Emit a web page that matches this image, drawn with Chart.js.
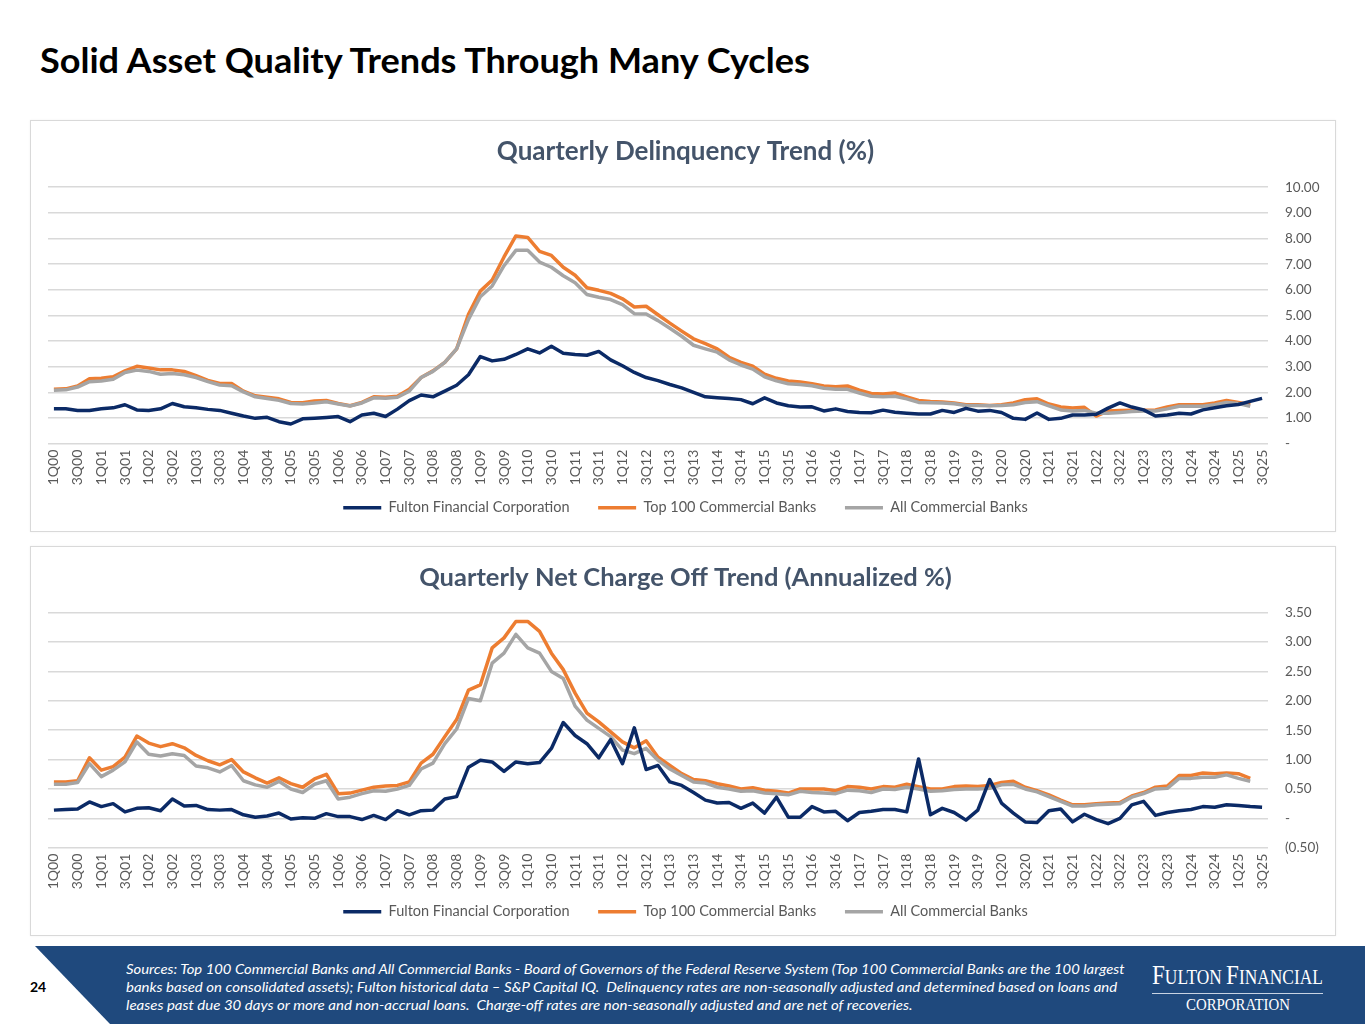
<!DOCTYPE html>
<html>
<head>
<meta charset="utf-8">
<script src="https://cdn.jsdelivr.net/npm/chart.js@4.4.1/dist/chart.umd.min.js"></script>
<style>
  body { margin: 0; width: 1365px; height: 1024px; background: #fff; position: relative; overflow: hidden; font-family: Lato, "Open Sans", sans-serif; }
  #title { position: absolute; left: 40px; top: 39px; font-weight: 700; font-size: 35px; line-height: 40px; white-space: nowrap; transform-origin: 0 0; color: #000; width: max-content; }
  .box { position: absolute; left: 30px; width: 1304px; border: 1px solid #d9d9d9; box-shadow: 0 0 2px rgba(0,0,0,0.06); background: #fff; }
  #box1 { top: 120px; height: 410px; }
  #box2 { top: 546px; height: 388px; }
  canvas { display: block; }
  #band { position: absolute; left: 0; top: 946px; width: 1365px; height: 78px; background: #1f497d;
          clip-path: polygon(35px 0, 1365px 0, 1365px 78px, 110px 78px); }
  #page { position: absolute; left: 30px; top: 978px; font-weight: 700; font-size: 14px; color: #000; }
  #notes { position: absolute; left: 126px; top: 960px; color: #fff; font-style: italic; font-size: 13px; line-height: 18px; }
  #notes div { white-space: nowrap; transform-origin: 0 0; width: max-content; }
  #logo1 { position: absolute; left: 1152px; top: 960px; color: #fff; font-family: "Liberation Serif", "DejaVu Serif", serif; font-size: 21px; white-space: nowrap; transform-origin: 0 0; width: max-content; line-height: 30px; }
  #logo1 b { font-weight: 400; font-size: 28px; }
  #rule { position: absolute; left: 1152px; top: 993px; width: 171px; height: 1px; background: #c8d3e3; }
  #logo2 { position: absolute; left: 1186px; top: 995px; color: #fff; font-family: "Liberation Serif", "DejaVu Serif", serif; font-size: 17px; line-height: 20px; white-space: nowrap; transform-origin: 0 0; width: max-content; }
</style>
</head>
<body>
<div id="title">Solid Asset Quality Trends Through Many Cycles</div>

<div class="box" id="box1"><canvas id="delinq" width="1304" height="410"></canvas></div>
<div class="box" id="box2"><canvas id="nco" width="1304" height="388"></canvas></div>

<div id="band"></div>
<div id="page">24</div>
<div id="notes">
  <div data-w="999">Sources: Top 100 Commercial Banks and All Commercial Banks - Board of Governors of the Federal Reserve System (Top 100 Commercial Banks are the 100 largest</div>
  <div data-w="991">banks based on consolidated assets); Fulton historical data – S&amp;P Capital IQ.&nbsp; Delinquency rates are non-seasonally adjusted and determined based on loans and</div>
  <div data-w="786">leases past due 30 days or more and non-accrual loans.&nbsp; Charge-off rates are non-seasonally adjusted and are net of recoveries.</div>
</div>
<div id="logo1"><b>F</b>ULTON <b>F</b>INANCIAL</div>
<div id="rule"></div>
<div id="logo2">CORPORATION</div>

<script>
// quarters 1Q00 .. 3Q25
const quarters = [];
for (let y = 0; y <= 25; y++) {
  for (let q = 1; q <= 4; q++) {
    if (y === 25 && q > 3) break;
    quarters.push(q + 'Q' + String(y).padStart(2, '0'));
  }
}

const seriesNames = ['Fulton Financial Corporation', 'Top 100 Commercial Banks', 'All Commercial Banks'];

// Quarterly delinquency (%)
const delinqFulton = [
  1.36, 1.36, 1.30, 1.30, 1.36, 1.40, 1.52, 1.32, 1.30, 1.36, 1.57, 1.44, 1.40, 1.34, 1.30, 1.19, 1.08, 0.99, 1.03, 0.86,
  0.77, 0.97, 0.99, 1.02, 1.06, 0.86, 1.12, 1.19, 1.06, 1.35, 1.68, 1.90, 1.83, 2.05, 2.28, 2.69, 3.40, 3.23, 3.29, 3.48,
  3.70, 3.54, 3.80, 3.53, 3.48, 3.45, 3.60, 3.27, 3.04, 2.78, 2.58, 2.46, 2.31, 2.18, 2.00, 1.83, 1.79, 1.76, 1.72, 1.56,
  1.79, 1.59, 1.48, 1.43, 1.44, 1.28, 1.36, 1.26, 1.22, 1.21, 1.31, 1.23, 1.19, 1.16, 1.16, 1.30, 1.22, 1.38, 1.27, 1.30,
  1.22, 0.99, 0.95, 1.20, 0.95, 0.99, 1.12, 1.12, 1.15, 1.39, 1.59, 1.43, 1.32, 1.08, 1.12, 1.19, 1.16, 1.32, 1.40, 1.48,
  1.53, 1.65, 1.77
];
const delinqTop100 = [
  2.12, 2.14, 2.25, 2.53, 2.55, 2.61, 2.84, 3.02, 2.95, 2.88, 2.88, 2.82, 2.65, 2.47, 2.35, 2.35, 2.05, 1.87, 1.81, 1.75,
  1.61, 1.60, 1.67, 1.69, 1.57, 1.48, 1.61, 1.83, 1.81, 1.85, 2.12, 2.58, 2.84, 3.17, 3.70, 5.05, 5.95, 6.38, 7.28, 8.10,
  8.04, 7.50, 7.34, 6.88, 6.57, 6.08, 5.98, 5.86, 5.65, 5.33, 5.36, 5.03, 4.70, 4.39, 4.09, 3.90, 3.70, 3.37, 3.17, 3.02,
  2.71, 2.55, 2.45, 2.41, 2.34, 2.25, 2.22, 2.25, 2.09, 1.96, 1.94, 1.98, 1.83, 1.69, 1.65, 1.63, 1.59, 1.52, 1.52, 1.49,
  1.52, 1.59, 1.72, 1.75, 1.55, 1.43, 1.39, 1.42, 1.08, 1.28, 1.30, 1.31, 1.31, 1.32, 1.43, 1.52, 1.52, 1.52, 1.59, 1.69,
  1.61, 1.52, null
];
const delinqAll = [
  2.09, 2.10, 2.21, 2.42, 2.45, 2.51, 2.78, 2.87, 2.82, 2.71, 2.74, 2.69, 2.58, 2.42, 2.29, 2.26, 2.02, 1.83, 1.76, 1.69,
  1.57, 1.55, 1.59, 1.64, 1.55, 1.47, 1.59, 1.79, 1.77, 1.81, 2.05, 2.58, 2.82, 3.17, 3.70, 4.85, 5.73, 6.15, 6.94, 7.54,
  7.54, 7.08, 6.88, 6.55, 6.28, 5.82, 5.71, 5.62, 5.42, 5.07, 5.06, 4.80, 4.50, 4.19, 3.84, 3.70, 3.57, 3.27, 3.07, 2.91,
  2.61, 2.45, 2.34, 2.31, 2.26, 2.16, 2.12, 2.12, 1.98, 1.85, 1.83, 1.85, 1.75, 1.61, 1.60, 1.59, 1.56, 1.49, 1.49, 1.48,
  1.49, 1.52, 1.61, 1.64, 1.48, 1.32, 1.28, 1.30, 1.19, 1.19, 1.22, 1.26, 1.28, 1.28, 1.36, 1.46, 1.46, 1.46, 1.52, 1.61,
  1.57, 1.46, null
];

// Quarterly net charge-offs (annualized %)
const ncoFulton = [
  0.14, 0.15, 0.16, 0.28, 0.20, 0.25, 0.11, 0.17, 0.18, 0.13, 0.33, 0.21, 0.22, 0.15, 0.14, 0.15, 0.06, 0.02, 0.04, 0.09,
  -0.01, 0.01, 0.00, 0.08, 0.03, 0.03, -0.02, 0.05, -0.02, 0.13, 0.06, 0.13, 0.14, 0.33, 0.37, 0.87, 0.99, 0.96, 0.80, 0.96,
  0.93, 0.95, 1.19, 1.63, 1.41, 1.27, 1.03, 1.34, 0.93, 1.54, 0.83, 0.90, 0.62, 0.56, 0.44, 0.31, 0.26, 0.27, 0.17, 0.26,
  0.09, 0.36, 0.02, 0.02, 0.20, 0.11, 0.12, -0.04, 0.10, 0.12, 0.15, 0.15, 0.11, 1.01, 0.06, 0.17, 0.10, -0.03, 0.14, 0.66,
  0.26, 0.09, -0.06, -0.07, 0.13, 0.16, -0.06, 0.07, -0.02, -0.09, 0.00, 0.23, 0.29, 0.05, 0.10, 0.13, 0.15, 0.20, 0.19, 0.23,
  0.22, 0.20, 0.19
];
const ncoTop100 = [
  0.62, 0.62, 0.64, 1.03, 0.82, 0.88, 1.04, 1.40, 1.28, 1.22, 1.27, 1.20, 1.07, 0.98, 0.91, 1.00, 0.79, 0.69, 0.60, 0.69,
  0.59, 0.53, 0.67, 0.75, 0.42, 0.43, 0.48, 0.53, 0.55, 0.56, 0.62, 0.94, 1.09, 1.39, 1.68, 2.18, 2.27, 2.90, 3.07, 3.35,
  3.35, 3.18, 2.81, 2.53, 2.13, 1.79, 1.64, 1.47, 1.30, 1.20, 1.32, 1.04, 0.90, 0.76, 0.66, 0.64, 0.59, 0.55, 0.50, 0.52,
  0.48, 0.46, 0.43, 0.50, 0.50, 0.50, 0.47, 0.54, 0.53, 0.50, 0.54, 0.53, 0.58, 0.54, 0.50, 0.50, 0.54, 0.55, 0.54, 0.56,
  0.61, 0.63, 0.53, 0.47, 0.40, 0.31, 0.23, 0.23, 0.25, 0.26, 0.27, 0.38, 0.44, 0.53, 0.55, 0.73, 0.73, 0.77, 0.76, 0.77,
  0.76, 0.68, null
];
const ncoAll = [
  0.58, 0.58, 0.61, 0.93, 0.71, 0.82, 0.96, 1.30, 1.09, 1.06, 1.10, 1.07, 0.89, 0.86, 0.79, 0.90, 0.64, 0.57, 0.53, 0.63,
  0.50, 0.44, 0.58, 0.64, 0.33, 0.36, 0.42, 0.47, 0.46, 0.50, 0.56, 0.84, 0.94, 1.27, 1.52, 2.04, 2.00, 2.64, 2.81, 3.13,
  2.90, 2.81, 2.50, 2.38, 1.91, 1.67, 1.53, 1.39, 1.16, 1.10, 1.19, 0.99, 0.84, 0.73, 0.62, 0.60, 0.53, 0.50, 0.46, 0.47,
  0.43, 0.42, 0.40, 0.46, 0.44, 0.43, 0.42, 0.48, 0.47, 0.44, 0.50, 0.49, 0.53, 0.50, 0.46, 0.47, 0.49, 0.50, 0.50, 0.51,
  0.57, 0.58, 0.50, 0.45, 0.37, 0.29, 0.21, 0.21, 0.23, 0.24, 0.25, 0.36, 0.42, 0.50, 0.51, 0.68, 0.68, 0.70, 0.70, 0.74,
  0.68, 0.63, null
];

const colors = ['#0b2a66', '#ed7d31', '#a5a5a5'];
const gridColor = '#d9d9d9';
const textColor = '#595959';

Chart.defaults.font.family = 'Lato, "Open Sans", sans-serif';
Chart.defaults.color = textColor;

function fmtTick(v) {
  if (Math.abs(v) < 1e-9) return '-';
  if (v < 0) return '(' + Math.abs(v).toFixed(2) + ')';
  return v.toFixed(2);
}

// default legend items, with extra room after all but the last entry
function legendLabels(chart) {
  const items = Chart.defaults.plugins.legend.labels.generateLabels(chart);
  items.forEach(it => { if (it.datasetIndex < 2) it.text += '\u2003 '; });
  return items;
}

function makeChart(id, titleText, titleSize, sets, yMin, yMax, step) {
  const order = [0, 2, 1]; // gray drawn over orange, navy on top
  return new Chart(document.getElementById(id), {
    type: 'line',
    data: {
      labels: quarters,
      datasets: sets.map((d, i) => ({
        label: seriesNames[i],
        data: d,
        borderColor: colors[i],
        backgroundColor: colors[i],
        borderWidth: 3.5,
        borderJoinStyle: 'round',
        pointRadius: 0,
        tension: 0,
        order: order[i]
      }))
    },
    options: {
      responsive: false,
      animation: false,
      events: [],
      layout: { padding: { left: 17, right: 12, top: 0, bottom: 6 } },
      plugins: {
        title: {
          display: true,
          text: titleText,
          color: '#44546a',
          font: { size: titleSize, weight: 'bold' },
          padding: { top: 15, bottom: 20 }
        },
        legend: {
          position: 'bottom',
          labels: {
            usePointStyle: true,
            pointStyle: 'line',
            pointStyleWidth: 38,
            padding: 14,
            color: textColor,
            font: { size: 14.5 },
            generateLabels: legendLabels,
            sort: (a, b) => a.datasetIndex - b.datasetIndex
          }
        },
        tooltip: { enabled: false }
      },
      scales: {
        x: {
          offset: true,
          grid: { display: false, drawTicks: false },
          border: { display: false },
          ticks: {
            autoSkip: false,
            minRotation: 90,
            maxRotation: 90,
            padding: 6,
            color: textColor,
            font: { size: 14 },
            callback: function (val, idx) { return idx % 2 === 0 ? this.getLabelForValue(val) : ''; }
          },
          afterFit: s => { s.height = 42.75; }
        },
        y: {
          position: 'right',
          min: yMin,
          max: yMax,
          grid: { color: gridColor, lineWidth: 1.5, drawTicks: false },
          border: { display: false },
          ticks: { stepSize: step, padding: 17, color: textColor, font: { size: 13.5 }, callback: fmtTick },
          afterFit: s => { s.width = 55; }
        }
      }
    }
  });
}

makeChart('delinq', 'Quarterly Delinquency Trend (%)', 26, [delinqFulton, delinqTop100, delinqAll], 0, 10, 1);
makeChart('nco', 'Quarterly Net Charge Off Trend (Annualized %)', 25.5, [ncoFulton, ncoTop100, ncoAll], -0.5, 3.5, 0.5);

// squeeze text blocks to their widths in the slide
function fit(el, w) { el.style.transform = 'scaleX(' + (w / el.offsetWidth) + ')'; }
fit(document.getElementById('title'), 770);
document.querySelectorAll('#notes div').forEach(d => fit(d, +d.dataset.w));
fit(document.getElementById('logo1'), 171);
fit(document.getElementById('logo2'), 104);
</script>
</body>
</html>
